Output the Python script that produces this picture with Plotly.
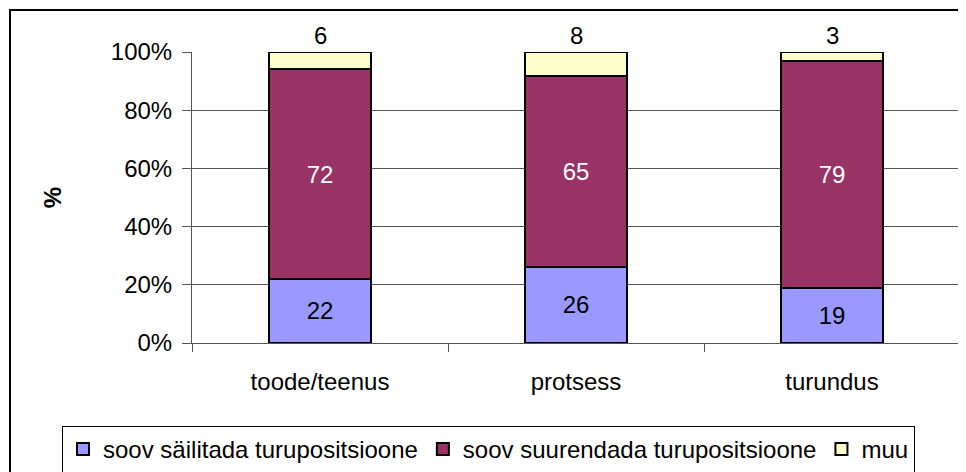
import plotly.graph_objects as go

categories = ["toode/teenus", "protsess", "turundus"]
series_names = ["soov säilitada turupositsioone", "soov suurendada turupositsioone", "muu"]
keep_values = [22, 26, 19]
grow_values = [72, 65, 79]
other_values = [6, 8, 3]
y_tick_vals = [0, 20, 40, 60, 80, 100]
y_tick_text = ["0%", "20%", "40%", "60%", "80%", "100%"]

colors = ["#9999FF", "#993366", "#FFFFCC"]
text_colors = ["black", "white", "black"]
FONT = "Arial, Liberation Sans, sans-serif"

fig = go.Figure()
for name, vals, col, tcol, show_text in zip(series_names, [keep_values, grow_values, other_values],
                                            colors, text_colors, [True, True, False]):
    fig.add_trace(go.Bar(
        x=categories, y=vals, name=name,
        marker=dict(color=col, line=dict(color="black", width=2)),
        text=[str(v) for v in vals] if show_text else None,
        textposition="inside", insidetextanchor="middle",
        textfont=dict(color=tcol, size=24, family=FONT),
        textangle=0,
    ))

# labels for the top segment, placed above the stacked (normalized to 100%) bar
for cat, v in zip(categories, other_values):
    fig.add_annotation(x=cat, y=100, xref="x", yref="y", text=str(v),
                       showarrow=False, yanchor="bottom", yshift=1,
                       font=dict(size=24, family=FONT, color="black"))

fig.update_layout(
    barmode="stack", barnorm="percent", bargap=0.6,
    width=958, height=464,
    margin=dict(l=184, r=6, t=44, b=129, autoexpand=False),
    paper_bgcolor="white", plot_bgcolor="white",
    font=dict(family=FONT, size=24, color="black"),
    legend=dict(orientation="h", xref="paper", yref="paper",
                x=(62 - 192) / 768, xanchor="left", y=-(426 - 343) / 291, yanchor="top",
                bordercolor="black", borderwidth=1, bgcolor="white",
                font=dict(size=24, family=FONT), traceorder="normal",
                itemwidth=30),
    showlegend=True,
)
fig.update_yaxes(range=[0, 100], tickvals=y_tick_vals, ticktext=y_tick_text,
                 showgrid=True, gridcolor="#555555", gridwidth=1,
                 showline=True, linecolor="#555555", linewidth=1,
                 ticks="outside", ticklen=9, tickcolor="#555555",
                 ticklabelstandoff=5, zeroline=False, automargin=False,
                 title=dict(text="<b>%</b>", font=dict(size=24), standoff=42))
fig.update_xaxes(showline=True, linecolor="#555555", linewidth=1,
                 ticks="outside", ticklen=8, tickcolor="#555555",
                 tickson="boundaries", ticklabelstandoff=17, showgrid=False,
                 automargin=False)

fig.add_shape(type="rect", xref="paper", yref="paper",
              x0=(10 - 192) / 768, x1=(975 - 192) / 768,
              y0=-(490 - 343) / 291, y1=1 + (52 - 10) / 291,
              line=dict(color="black", width=2), fillcolor="rgba(0,0,0,0)", layer="below")

fig.write_html("out.html")
